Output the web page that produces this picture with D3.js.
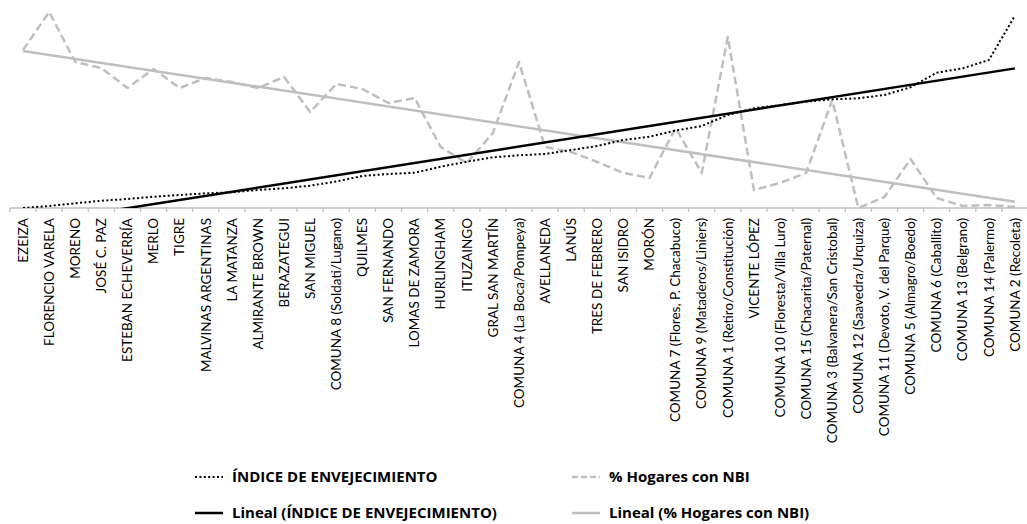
<!DOCTYPE html>
<html><head><meta charset="utf-8">
<script src="https://cdn.jsdelivr.net/npm/d3@7"></script>
<style>body{margin:0;background:#fff} svg{display:block;font-family:Lato,"Open Sans",sans-serif}</style>
</head><body>
<svg id="chart" width="1027" height="524"></svg>
<script>
const categories = ["EZEIZA","FLORENCIO VARELA","MORENO","JOSÉ C. PAZ","ESTEBAN ECHEVERRÍA","MERLO","TIGRE","MALVINAS ARGENTINAS","LA MATANZA","ALMIRANTE BROWN","BERAZATEGUI","SAN MIGUEL","COMUNA 8 (Soldati/Lugano)","QUILMES","SAN FERNANDO","LOMAS DE ZAMORA","HURLINGHAM","ITUZAINGO","GRAL SAN MARTÍN","COMUNA 4 (La Boca/Pompeya)","AVELLANEDA","LANÚS","TRES DE FEBRERO","SAN ISIDRO","MORÓN","COMUNA 7 (Flores, P. Chacabuco)","COMUNA 9 (Mataderos/Liniers)","COMUNA 1 (Retiro/Constitución)","VICENTE LÓPEZ","COMUNA 10 (Floresta/Villa Luro)","COMUNA 15 (Chacarita/Paternal)","COMUNA 3 (Balvanera/San Cristobal)","COMUNA 12 (Saavedra/Urquiza)","COMUNA 11 (Devoto, V. del Parque)","COMUNA 5 (Almagro/Boedo)","COMUNA 6 (Caballito)","COMUNA 13 (Belgrano)","COMUNA 14 (Palermo)","COMUNA 2 (Recoleta)"];

const indiceEnvejecimiento = [20,22,24.7,27.3,29,31.3,33,34.7,35.7,38,39.7,42.3,46.5,52,54,55.3,61.3,66.3,70.7,72.7,74,78,82,88,91.3,97.5,102,113,119.7,123,126.3,128.7,129.7,133,140.7,155.3,159.7,168,212.3];

const hogaresNBI = [15.8,19.6,14.6,14.0,12.0,13.9,12.0,13.0,12.6,12.0,13.1,9.6,12.4,11.9,10.5,11.0,6.1,4.5,7.5,14.6,6.1,5.6,4.6,3.5,3.0,8.0,3.5,17.1,1.8,2.5,3.5,10.8,0.0,1.1,4.9,1.0,0.2,0.3,0.1];

const seriesNames = ["ÍNDICE DE ENVEJECIMIENTO","% Hogares con NBI","Lineal (ÍNDICE DE ENVEJECIMIENTO)","Lineal (% Hogares con NBI)"];
const indiceDomain = [20, 220];
const nbiDomain = [0, 20];

const svg = d3.select("#chart");
const plotLeft = 10, plotRight = 1028, plotBottom = 208, plotTop = 8;

const x = d3.scaleBand().domain(categories).range([plotLeft, plotRight]).padding(0);
const cx = c => x(c) + x.bandwidth() / 2;
const yI = d3.scaleLinear().domain(indiceDomain).range([plotBottom, plotTop]);
const yN = d3.scaleLinear().domain(nbiDomain).range([plotBottom, plotTop]);

svg.append("defs").append("clipPath").attr("id","plot")
  .append("rect").attr("x", 0).attr("y", 0).attr("width", 1027).attr("height", plotBottom);

// axis
const ax = svg.append("g").attr("transform", `translate(0,${plotBottom})`)
  .call(d3.axisBottom(x).tickSize(0).tickPadding(0));
ax.select(".domain").remove();
ax.append("line").attr("x1", plotLeft).attr("x2", plotRight).attr("stroke", "#bfbfbf").attr("stroke-width", 1.3);
ax.selectAll(".boundary").data(categories.concat([null])).join("line")
  .attr("x1", (d,i) => i < categories.length ? x(d) : plotRight)
  .attr("x2", (d,i) => i < categories.length ? x(d) : plotRight)
  .attr("y1", 0).attr("y2", 4).attr("stroke", "#bfbfbf").attr("stroke-width", 1.3);
ax.selectAll(".tick text")
  .attr("transform", "rotate(-90)")
  .attr("text-anchor", "end")
  .attr("x", -10).attr("y", 0).attr("dy", "0.35em")
  .attr("fill", "#000")
  .style("font-family", "Lato, sans-serif")
  .style("font-size", "13.5px");

function regression(vals) {
  const n = vals.length, xs = d3.range(n);
  const mx = d3.mean(xs), my = d3.mean(vals);
  const b = d3.sum(xs, i => (i - mx) * (vals[i] - my)) / d3.sum(xs, i => (i - mx) ** 2);
  return i => my + b * (i - mx);
}

const plot = svg.append("g").attr("clip-path", "url(#plot)");

const lineI = d3.line().x((d,i) => cx(categories[i])).y(d => yI(d));
const lineN = d3.line().x((d,i) => cx(categories[i])).y(d => yN(d));

const fI = regression(indiceEnvejecimiento);
const fN = regression(hogaresNBI);
const ends = [0, categories.length - 1];

plot.append("path").datum(ends.map(fN)).attr("fill","none")
  .attr("stroke","#bfbfbf").attr("stroke-width",2.5)
  .attr("d", d3.line().x((d,k) => cx(categories[ends[k]])).y(d => yN(d)));
plot.append("path").datum(hogaresNBI).attr("fill","none")
  .attr("stroke","#bfbfbf").attr("stroke-width",2.5).attr("stroke-dasharray","8,4")
  .attr("stroke-linejoin","round").attr("d", lineN);
plot.append("path").datum(ends.map(fI)).attr("fill","none")
  .attr("stroke","#000").attr("stroke-width",2.5)
  .attr("d", d3.line().x((d,k) => cx(categories[ends[k]])).y(d => yI(d)));
plot.append("path").datum(indiceEnvejecimiento).attr("fill","none")
  .attr("stroke","#000").attr("stroke-width",2).attr("stroke-dasharray","2,2.4")
  .attr("d", lineI);

// legend
const legendItems = [
  {name: seriesNames[0], x: 195, y: 477, stroke: "#000", w: 2, dash: "2,2.4"},
  {name: seriesNames[1], x: 572, y: 477, stroke: "#bfbfbf", w: 2.5, dash: "6,3"},
  {name: seriesNames[2], x: 195, y: 513, stroke: "#000", w: 2.5, dash: null},
  {name: seriesNames[3], x: 572, y: 513, stroke: "#bfbfbf", w: 2.5, dash: null}
];
const lg = svg.append("g").selectAll("g").data(legendItems).join("g")
  .attr("transform", d => `translate(${d.x},${d.y})`);
lg.append("line").attr("x1",0).attr("x2",28).attr("y1",0).attr("y2",0)
  .attr("stroke", d => d.stroke).attr("stroke-width", d => d.w)
  .attr("stroke-dasharray", d => d.dash);
lg.append("text").attr("x", 37).attr("dy","0.36em")
  .style("font-family","'Open Sans', sans-serif").style("font-weight","bold").style("font-size","15px")
  .attr("fill","#000").text(d => d.name);
</script>
</body></html>
